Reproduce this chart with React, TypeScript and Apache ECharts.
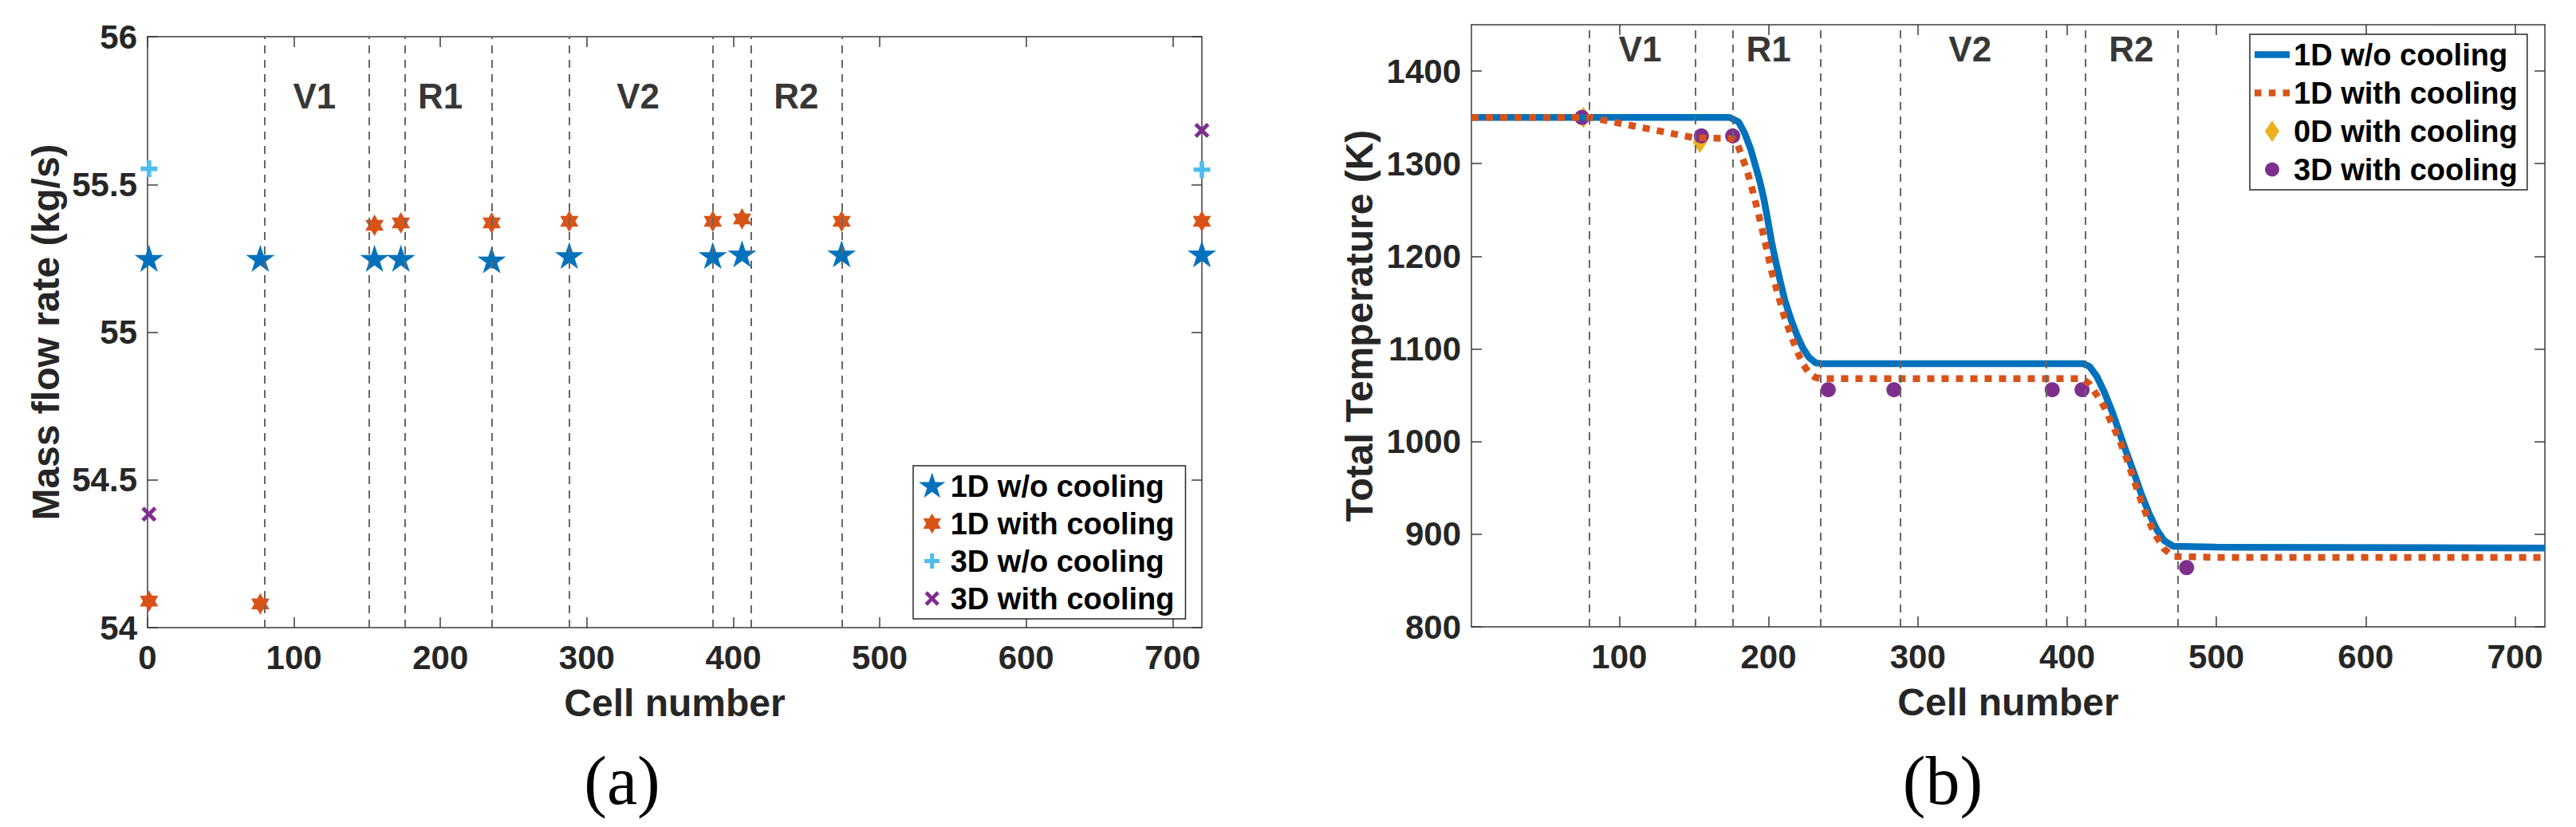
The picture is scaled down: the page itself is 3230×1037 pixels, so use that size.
import React, { useEffect, useRef } from 'react';
import * as echarts from 'echarts';

// ---------------- data ----------------
const boundaryCells = [80, 151, 176, 235, 288, 386, 412, 474];
const regionNames = ['V1', 'R1', 'V2', 'R2'];
const regionCells = [114, 200, 335, 443];
const regionLabelMass = 55.8;
const regionLabelTemp = 1424;

const xTicksA = [0, 100, 200, 300, 400, 500, 600, 700];
const xTicksB = [100, 200, 300, 400, 500, 600, 700];
const yTicksA = [54, 54.5, 55, 55.5, 56];
const yTicksB = [800, 900, 1000, 1100, 1200, 1300, 1400];

// (a) mass flow rate
const massCells = [1, 77, 155, 173, 235, 288, 386, 406, 474, 720];
const mass1DNoCooling = [55.25, 55.25, 55.25, 55.25, 55.245, 55.26, 55.26, 55.265, 55.265, 55.265];
const mass1DCooling = [54.09, 54.08, 55.362, 55.37, 55.37, 55.375, 55.375, 55.383, 55.375, 55.375];
const mass3DCells = [1, 720];
const mass3DNoCooling = [55.553, 55.55];
const mass3DCooling = [54.384, 55.683];

// (b) total temperature
const temp1DNoCoolingCells = [1, 174, 180, 184, 188, 191, 194, 197, 199.5, 202, 205, 208, 211, 215, 219, 223, 227, 231.5, 236, 411, 415, 420, 425, 430, 435, 440, 445, 450, 455, 460, 465, 471, 500, 720];
const temp1DNoCooling = [1350, 1350, 1345, 1333, 1316, 1299, 1282, 1261, 1239, 1216, 1193, 1172, 1152, 1132, 1115, 1101, 1091, 1085, 1084, 1084, 1081, 1070, 1053, 1033, 1010, 987, 965, 942, 922, 905, 893, 887, 886, 885];
const temp1DCoolingCells = [1, 80, 150, 176, 178.5, 181, 185.5, 189.5, 194, 198, 202, 206.5, 210.5, 215, 219, 223, 227, 231.5, 236, 410, 415, 420, 425, 430, 435, 440, 445, 450, 455, 460, 465, 471, 500, 720];
const temp1DCooling = [1350, 1350, 1328, 1327, 1325, 1313, 1293, 1270, 1241, 1213, 1184, 1158, 1135, 1115, 1098, 1084, 1074, 1069, 1068, 1068, 1062, 1050, 1037, 1019, 1002, 981, 957, 934, 913, 897, 884, 876, 875, 875];
const temp0DCells = [76, 154];
const temp0DCooling = [1350, 1323];
const temp3DCells = [75, 155, 176, 240, 284, 390, 410, 480];
const temp3DCooling = [1350, 1330, 1330, 1056, 1056, 1056, 1056, 864];

// ---------------- styling ----------------
const FONT = "'Liberation Sans', Arial, Helvetica, sans-serif";
const SERIF = "'Liberation Serif', 'Times New Roman', serif";
const AX = '#3a3a3a';
const TXT = '#262626';
const C_BLUE = '#0072BD';
const C_ORANGE = '#D95319';
const C_YELLOW = '#EDB120';
const C_PURPLE = '#7E2F8E';
const C_CYAN = '#4DBEEE';

const STAR_D = 'M0,-100L22.45,-30.9L95.11,-30.9L36.33,11.8L58.78,80.9L0,38.2L-58.78,80.9L-36.33,11.8L-95.11,-30.9L-22.45,-30.9Z';
const HEX_D = 'M0,-100L28.87,-50L86.6,-50L57.74,0L86.6,50L28.87,50L0,100L-28.87,50L-86.6,50L-57.74,0L-86.6,-50L-28.87,-50Z';
const PLUS_D = 'M-27,-100L27,-100L27,-27L100,-27L100,27L27,27L27,100L-27,100L-27,27L-100,27L-100,-27L-27,-27Z';
const CROSS_D = 'M55.15,-86.27L86.27,-55.15L31.11,0L86.27,55.15L55.15,86.27L0,31.11L-55.15,86.27L-86.27,55.15L-31.11,0L-86.27,-55.15L-55.15,-86.27L0,-31.11Z';
const CIRCLE_D = 'M-100,0A100,100,0,1,0,100,0A100,100,0,1,0,-100,0Z';
const DIAMOND_D = 'M0,-100L66.7,0L0,100L-66.7,0Z';

const zip = (xs: number[], ys: number[]) => xs.map((x, i) => [x, ys[i]]);

const tickFont = { fontFamily: FONT, fontWeight: 'bold' as const, fontSize: 42, color: TXT };
const nameFont = { fontFamily: FONT, fontWeight: 'bold' as const, fontSize: 48, color: TXT };
const lineSt = { color: AX, width: 1.5 };
const plain = (v: number) => String(v);

function xAxisBottom(gridIndex: number, min: number, max: number, ticks: number[]) {
  return {
    type: 'value', gridIndex, min, max, position: 'bottom',
    name: 'Cell number', nameLocation: 'middle', nameGap: 70, nameTextStyle: nameFont,
    axisLine: { show: true, onZero: false, lineStyle: lineSt },
    axisTick: { show: true, inside: true, length: 13, customValues: ticks, lineStyle: lineSt },
    axisLabel: { show: true, customValues: ticks, margin: 16, formatter: plain, ...tickFont },
    splitLine: { show: false },
  };
}
function xAxisTop(gridIndex: number, min: number, max: number, ticks: number[]) {
  return {
    type: 'value', gridIndex, min, max, position: 'top',
    axisLine: { show: true, onZero: false, lineStyle: lineSt },
    axisTick: { show: true, inside: true, length: 13, customValues: ticks, lineStyle: lineSt },
    axisLabel: { show: false },
    splitLine: { show: false },
  };
}
function yAxisLeft(gridIndex: number, min: number, max: number, ticks: number[], name: string, gap: number) {
  return {
    type: 'value', gridIndex, min, max, position: 'left',
    name, nameLocation: 'middle', nameRotate: 90, nameGap: gap, nameTextStyle: nameFont,
    axisLine: { show: true, onZero: false, lineStyle: lineSt },
    axisTick: { show: true, inside: true, length: 13, customValues: ticks, lineStyle: lineSt },
    axisLabel: { show: true, customValues: ticks, margin: 13, formatter: plain, ...tickFont },
    splitLine: { show: false },
  };
}
function yAxisRight(gridIndex: number, min: number, max: number, ticks: number[]) {
  return {
    type: 'value', gridIndex, min, max, position: 'right',
    axisLine: { show: true, onZero: false, lineStyle: lineSt },
    axisTick: { show: true, inside: true, length: 13, customValues: ticks, lineStyle: lineSt },
    axisLabel: { show: false },
    splitLine: { show: false },
  };
}

function regionSeries(xAxisIndex: number, yAxisIndex: number, yVal: number) {
  return {
    type: 'scatter', name: 'regions' + xAxisIndex, xAxisIndex, yAxisIndex,
    silent: true, symbolSize: 1, clip: false,
    itemStyle: { color: 'rgba(0,0,0,0)' },
    label: {
      show: true, position: 'inside', formatter: '{b}',
      fontFamily: FONT, fontWeight: 'bold', fontSize: 44, color: '#000',
    },
    data: regionNames.map((n, i) => ({ name: n, value: [regionCells[i], yVal] })),
    markLine: {
      silent: true, symbol: ['none', 'none'], label: { show: false },
      lineStyle: { color: '#666666', width: 2, type: [10, 8] },
      emphasis: { disabled: true },
      data: boundaryCells.map((x) => ({ xAxis: x })),
    },
  };
}

const legendItem = (name: string, icon: string, color: string) => ({
  name, icon, itemStyle: { color, borderWidth: 0, opacity: 1 },
});

const scatterStyle = (color: string) => ({ color, opacity: 1 });

export default function App() {
  const ref = useRef<HTMLDivElement>(null);
  useEffect(() => {
    if (!ref.current) return;
    const chart = echarts.init(ref.current, null, { renderer: 'svg' });
    const option: any = {
      animation: false,
      backgroundColor: '#ffffff',
      grid: [
        { left: 185, top: 46, width: 1322, height: 741, containLabel: false },
        { left: 1845, top: 31, width: 1346, height: 755, containLabel: false },
      ],
      xAxis: [
        xAxisBottom(0, 0, 720, xTicksA),
        xAxisTop(0, 0, 720, xTicksA),
        xAxisBottom(1, 1, 720, xTicksB),
        xAxisTop(1, 1, 720, xTicksB),
      ],
      yAxis: [
        yAxisLeft(0, 54, 56, yTicksA, 'Mass flow rate (kg/s)', 104),
        yAxisRight(0, 54, 56, yTicksA),
        yAxisLeft(1, 800, 1450, yTicksB, 'Total Temperature (K)', 117),
        yAxisRight(1, 800, 1450, yTicksB),
      ],
      legend: [
        {
          left: 1145, top: 584, orient: 'vertical', itemGap: 0, itemWidth: 36, itemHeight: 36,
          padding: [2, 14, 2, 7], borderColor: '#262626', borderWidth: 1.5, backgroundColor: '#fff',
          selectedMode: false,
          textStyle: { fontFamily: FONT, fontWeight: 'bold', fontSize: 38, color: '#000', lineHeight: 47 },
          data: [
            legendItem('1D w/o cooling', 'path://M0,-105M0,100' + STAR_D, C_BLUE),
            legendItem('1D with cooling', 'path://M0,-140M0,140' + HEX_D, C_ORANGE),
            legendItem('3D w/o cooling', 'path://M0,-190M0,190' + PLUS_D, C_CYAN),
            legendItem('3D with cooling', 'path://M0,-170M0,170' + CROSS_D, C_PURPLE),
          ],
        },
        {
          left: 2821, top: 43, orient: 'vertical', itemGap: 0, itemWidth: 44, itemHeight: 36,
          padding: [1.5, 12, 1.5, 6], borderColor: '#262626', borderWidth: 1.5, backgroundColor: '#fff',
          selectedMode: false,
          formatter: (n: string) => n.replace(/^b:/, ''),
          textStyle: { fontFamily: FONT, fontWeight: 'bold', fontSize: 38, color: '#000', lineHeight: 48 },
          data: [
            legendItem('b:1D w/o cooling', 'path://M0,0L44,0L44,8.5L0,8.5Z', C_BLUE),
            legendItem('b:1D with cooling', 'path://M0,0L8.5,0L8.5,8.5L0,8.5ZM17.75,0L26.25,0L26.25,8.5L17.75,8.5ZM35.5,0L44,0L44,8.5L35.5,8.5Z', C_ORANGE),
            legendItem('b:0D with cooling', 'path://M0,-133.3M0,133.3' + DIAMOND_D, C_YELLOW),
            legendItem('b:3D with cooling', 'path://M0,-200M0,200' + CIRCLE_D, C_PURPLE),
          ],
        },
      ],
      graphic: [
        { type: 'text', x: 780, y: 979, style: { text: '(a)', fontSize: 86, fontFamily: SERIF, fill: '#000', align: 'center', verticalAlign: 'middle', textAlign: 'center', textVerticalAlign: 'middle' } },
        { type: 'text', x: 2436, y: 979, style: { text: '(b)', fontSize: 86, fontFamily: SERIF, fill: '#000', align: 'center', verticalAlign: 'middle', textAlign: 'center', textVerticalAlign: 'middle' } },
      ],
      series: [
        // ---- (a) ----
        {
          type: 'scatter', name: '1D w/o cooling', xAxisIndex: 0, yAxisIndex: 0, clip: false,
          symbol: 'path://' + STAR_D, symbolSize: [36, 34], itemStyle: scatterStyle(C_BLUE),
          data: zip(massCells, mass1DNoCooling),
        },
        {
          type: 'scatter', name: '1D with cooling', xAxisIndex: 0, yAxisIndex: 0, clip: false,
          symbol: 'path://' + HEX_D, symbolSize: [23, 27], itemStyle: scatterStyle(C_ORANGE),
          data: zip(massCells, mass1DCooling),
        },
        {
          type: 'scatter', name: '3D w/o cooling', xAxisIndex: 0, yAxisIndex: 0, clip: false,
          symbol: 'path://' + PLUS_D, symbolSize: [21, 21], itemStyle: scatterStyle(C_CYAN),
          data: zip(mass3DCells, mass3DNoCooling),
        },
        {
          type: 'scatter', name: '3D with cooling', xAxisIndex: 0, yAxisIndex: 0, clip: false,
          symbol: 'path://' + CROSS_D, symbolSize: [19, 19], itemStyle: scatterStyle(C_PURPLE),
          data: zip(mass3DCells, mass3DCooling),
        },
        regionSeries(0, 0, regionLabelMass),
        // ---- (b) ----
        {
          type: 'line', name: 'b:1D w/o cooling', xAxisIndex: 2, yAxisIndex: 2,
          symbol: 'none', showSymbol: false, smooth: false,
          lineStyle: { color: C_BLUE, width: 8.5 }, itemStyle: { color: C_BLUE },
          data: zip(temp1DNoCoolingCells, temp1DNoCooling),
        },
        {
          type: 'line', name: 'b:1D with cooling', xAxisIndex: 2, yAxisIndex: 2,
          symbol: 'none', showSymbol: false, smooth: false,
          lineStyle: { color: C_ORANGE, width: 8.5, type: [9, 9] }, itemStyle: { color: C_ORANGE },
          data: zip(temp1DCoolingCells, temp1DCooling),
        },
        {
          type: 'scatter', name: 'b:0D with cooling', xAxisIndex: 2, yAxisIndex: 2, clip: false,
          symbol: 'diamond', symbolSize: [18, 27], itemStyle: scatterStyle(C_YELLOW),
          data: zip(temp0DCells, temp0DCooling),
        },
        {
          type: 'scatter', name: 'b:3D with cooling', xAxisIndex: 2, yAxisIndex: 2, clip: false,
          symbol: 'circle', symbolSize: 19, itemStyle: scatterStyle(C_PURPLE),
          data: zip(temp3DCells, temp3DCooling),
        },
        regionSeries(2, 2, regionLabelTemp),
      ],
    };
    chart.setOption(option);
    return () => chart.dispose();
  }, []);
  return (
    <div
      ref={ref}
      style={{ position: 'fixed', left: 0, top: 0, width: 3230, height: 1037, background: '#fff' }}
    />
  );
}
